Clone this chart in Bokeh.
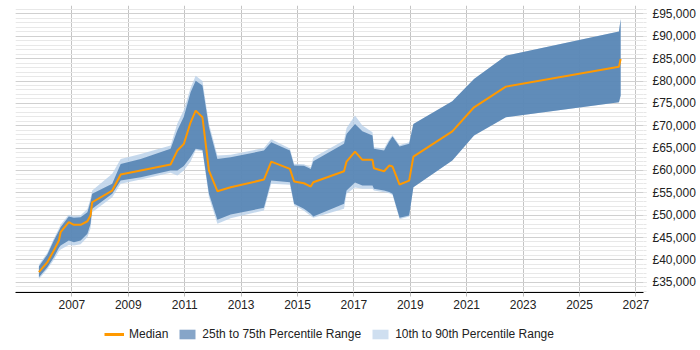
from bokeh.plotting import figure
from bokeh.layouts import column
from bokeh.models import FixedTicker, Range1d, Legend, LegendItem
from bokeh.embed import file_html
from bokeh.resources import INLINE

# Sample dates as decimal years
dates = [2005.83, 2006.13, 2006.36, 2006.54, 2006.60, 2006.89, 2007.07, 2007.31,
         2007.55, 2007.66, 2007.72, 2008.43, 2008.73, 2009.44, 2010.50, 2010.74,
         2010.97, 2011.21, 2011.39, 2011.63, 2011.86, 2012.16, 2012.63, 2013.81,
         2014.07, 2014.73, 2014.88, 2015.23, 2015.47, 2015.56, 2016.65, 2016.74,
         2017.04, 2017.30, 2017.66, 2017.71, 2018.07, 2018.25, 2018.37, 2018.62,
         2018.96, 2019.11, 2020.49, 2021.26, 2022.39, 2026.40, 2026.46]

median = [37250, 39480, 42100, 44330, 46190, 48420, 47840, 47840,
          48640, 49920, 52890, 55500, 59080, 59980, 61320, 64450,
          65950, 70770, 73390, 71890, 59980, 55350, 56240, 57960,
          61990, 60340, 57520, 57140, 56400, 57360, 59820, 61990,
          64220, 62370, 62370, 60500, 59820, 61090, 60870, 56850,
          57740, 63110, 68760, 74130, 78750, 83220, 84940]

p25 = [36130, 38360, 40600, 42700, 43210, 44330, 43950, 44330,
       45830, 48000, 51420, 54770, 57740, 58480, 59980, 59980,
       61000, 63000, 64830, 64600, 54770, 48960, 50140, 51640,
       57740, 57360, 52540, 51420, 50300, 49700, 52540, 55500,
       57300, 56620, 56620, 55890, 55500, 55200, 54770, 49410,
       49920, 56240, 62210, 67800, 71890, 75240, 76740]

p75 = [38520, 41200, 44330, 46500, 47310, 49700, 49410, 49540,
       50660, 53000, 54770, 57000, 61470, 62590, 64830, 69000,
       72000, 77500, 80090, 78980, 69660, 62590, 62950, 64450,
       66300, 64450, 61090, 61030, 60340, 62060, 65950, 68180,
       70410, 68760, 67800, 64830, 64450, 66500, 67570, 65340,
       65950, 70410, 75470, 80470, 85680, 91110, 93880]

p10 = [35700, 37900, 40000, 41900, 42300, 43300, 43210, 43500,
       45100, 47000, 50660, 54010, 57000, 58000, 59500, 58860,
       60000, 62000, 64500, 64300, 54000, 48060, 49300, 51040,
       57000, 56800, 52200, 51000, 49800, 49400, 51420, 54800,
       56200, 55900, 55900, 55500, 55100, 54900, 54500, 49100,
       49700, 56240, 62210, 67800, 71890, 75240, 76740]

p90 = [38900, 41600, 44800, 47000, 47900, 50100, 49800, 50000,
       51360, 53700, 55500, 59240, 62590, 63700, 65560, 70500,
       73500, 78500, 81210, 80000, 70500, 63330, 63500, 65000,
       66970, 64900, 61500, 61400, 60700, 62900, 66700, 69500,
       72270, 70030, 68540, 65200, 64900, 66900, 67900, 65700,
       66300, 70410, 75470, 80470, 85680, 91110, 93880]

year_ticks = list(range(2007, 2028, 2))
salary_ticks = list(range(35000, 95001, 5000))
salary_minor = list(range(33000, 97000, 1000))
salary_labels = {v: "£{:,}".format(v) for v in salary_ticks}

FONT = "Liberation Sans"
TEXT = "#222222"

# main chart
p = figure(width=700, height=314, output_backend="svg", toolbar_location=None,
           x_range=Range1d(2005.0, 2027.27), y_range=Range1d(32700, 96900),
           y_axis_location="right",
           min_border_left=15, min_border_top=5, min_border_right=57, min_border_bottom=22)
p.outline_line_color = None
p.background_fill_color = "white"

# percentile bands and median
p.varea(x=dates, y1=p10, y2=p90, fill_color="#b8cfe8", fill_alpha=0.8)
p.varea(x=dates, y1=p25, y2=p75, fill_color="#4e7eaf", fill_alpha=0.85)
p.line(x=dates, y=median, line_color="#ff9900", line_width=2)

# axes
xa = p.xaxis[0]
xa.ticker = FixedTicker(ticks=year_ticks, minor_ticks=[])
xa.axis_line_color = "#000000"
xa.major_tick_line_color = "#bbbbbb"
xa.major_tick_out = 4
xa.major_tick_in = 0
xa.minor_tick_line_color = None
xa.major_label_text_font = FONT
xa.major_label_text_font_size = "12px"
xa.major_label_text_color = TEXT
xa.major_label_standoff = 3

ya = p.yaxis[0]
ya.ticker = FixedTicker(ticks=salary_ticks, minor_ticks=salary_minor)
ya.major_label_overrides = salary_labels
ya.axis_line_color = None
ya.major_tick_line_color = "#cccccc"
ya.major_tick_out = 3
ya.major_tick_in = 0
ya.minor_tick_line_color = "#e6e6e6"
ya.minor_tick_out = 3
ya.minor_tick_in = 0
ya.major_label_text_font = FONT
ya.major_label_text_font_size = "12px"
ya.major_label_text_color = TEXT
ya.major_label_standoff = 6

# grid
p.xgrid.ticker = FixedTicker(ticks=year_ticks)
p.xgrid.grid_line_color = "#c4c4c4"
p.ygrid.ticker = FixedTicker(ticks=salary_ticks, minor_ticks=salary_minor)
p.ygrid.grid_line_color = "#d0d0d0"
p.ygrid.minor_grid_line_color = "#e8e8e8"

# legend strip under the chart
lg = figure(width=700, height=36, output_backend="svg", toolbar_location=None,
            x_axis_type=None, y_axis_type=None,
            x_range=Range1d(0, 1), y_range=Range1d(0, 1),
            min_border_left=0, min_border_right=0, min_border_top=0, min_border_bottom=0)
lg.outline_line_color = None
lg.xgrid.visible = False
lg.ygrid.visible = False

sw_med = lg.line(x=[-1], y=[-1], line_color="#ff9900", line_width=3)
sw_dark = lg.varea(x=[-1], y1=[-1], y2=[-1], fill_color="#86a5c8")
sw_light = lg.varea(x=[-1], y1=[-1], y2=[-1], fill_color="#cfdff0")

legend = Legend(items=[
    LegendItem(label="Median", renderers=[sw_med]),
    LegendItem(label="25th to 75th Percentile Range", renderers=[sw_dark]),
    LegendItem(label="10th to 90th Percentile Range", renderers=[sw_light]),
], orientation="horizontal", location=(89, 9))
legend.border_line_color = None
legend.background_fill_alpha = 0
legend.label_text_font = FONT
legend.label_text_font_size = "12px"
legend.label_text_color = TEXT
legend.glyph_width = 20
legend.glyph_height = 12
legend.label_height = 14
legend.label_standoff = 5
legend.spacing = 9
legend.padding = 0
legend.margin = 0
lg.add_layout(legend)

layout = column(p, lg, spacing=0)
open("out.html", "w").write(file_html(layout, INLINE))
